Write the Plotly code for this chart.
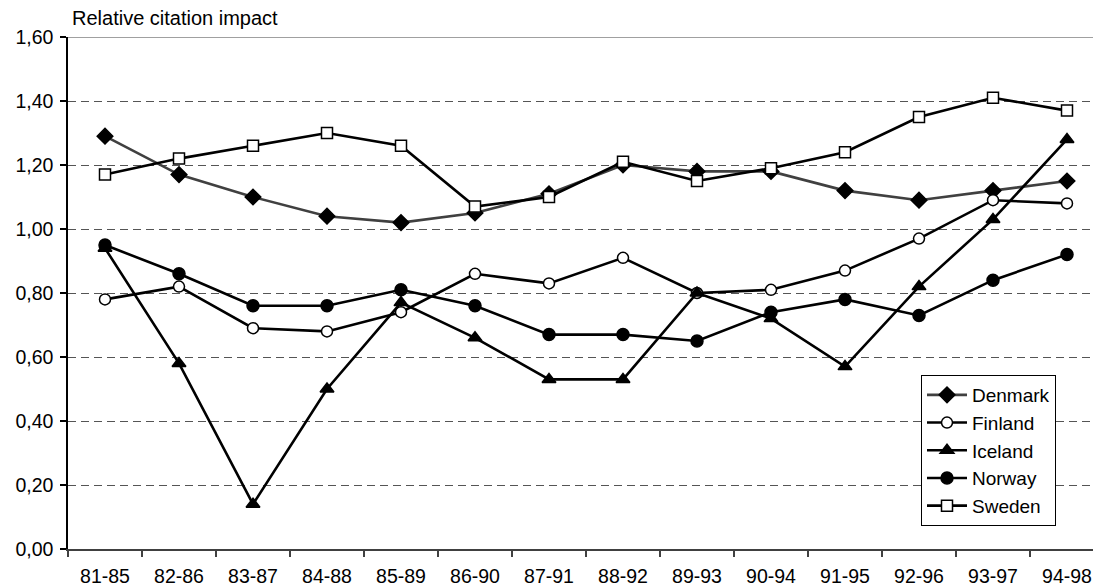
import plotly.graph_objects as go

periods = ["81-85", "82-86", "83-87", "84-88", "85-89", "86-90", "87-91",
           "88-92", "89-93", "90-94", "91-95", "92-96", "93-97", "94-98"]
denmark = [1.29, 1.17, 1.10, 1.04, 1.02, 1.05, 1.11, 1.20, 1.18, 1.18, 1.12, 1.09, 1.12, 1.15]
finland = [0.78, 0.82, 0.69, 0.68, 0.74, 0.86, 0.83, 0.91, 0.80, 0.81, 0.87, 0.97, 1.09, 1.08]
iceland = [0.94, 0.58, 0.14, 0.50, 0.77, 0.66, 0.53, 0.53, 0.80, 0.72, 0.57, 0.82, 1.03, 1.28]
norway = [0.95, 0.86, 0.76, 0.76, 0.81, 0.76, 0.67, 0.67, 0.65, 0.74, 0.78, 0.73, 0.84, 0.92]
sweden = [1.17, 1.22, 1.26, 1.30, 1.26, 1.07, 1.10, 1.21, 1.15, 1.19, 1.24, 1.35, 1.41, 1.37]
y_ticks = [0.0, 0.2, 0.4, 0.6, 0.8, 1.0, 1.2, 1.4, 1.6]

FONT = "Liberation Sans, Arial, sans-serif"
FS = 20
TFS = 19.5

series = [
    ("Denmark", denmark, "diamond", "black", "#404040", 12),
    ("Finland", finland, "circle", "white", "black", 11),
    ("Iceland", iceland, "triangle-up", "black", "black", 12),
    ("Norway", norway, "circle", "black", "black", 12),
    ("Sweden", sweden, "square", "white", "black", 11),
]

fig = go.Figure()
for name, vals, sym, fill, lcol, size in series:
    fig.add_trace(go.Scatter(
        x=periods, y=vals, name=name, mode="lines+markers",
        line=dict(color=lcol, width=2.6),
        marker=dict(symbol=sym, size=size, color=fill,
                    line=dict(color="black", width=1.5)),
    ))

fig.update_layout(
    width=1093, height=587,
    margin=dict(l=68, r=0, t=37, b=38),
    paper_bgcolor="white", plot_bgcolor="white",
    separators=",.",
    font=dict(family=FONT, size=FS, color="black"),
    showlegend=True,
    legend=dict(
        x=(921 - 68) / 1025, y=(549 - 375) / 512, xanchor="left", yanchor="top",
        bgcolor="white", bordercolor="black", borderwidth=1,
        font=dict(family=FONT, size=19, color="black"),
        itemwidth=40, tracegroupgap=0,
    ),
    xaxis=dict(
        type="category", range=[-0.5, -0.5 + 1025 / 74],
        showgrid=False, showline=True, linecolor="#404040", linewidth=2,
        ticks="outside", tickson="boundaries", ticklen=6, tickcolor="#404040",
        tickwidth=1.5, ticklabelstandoff=9, automargin=False,
        tickfont=dict(family=FONT, size=TFS),
    ),
    yaxis=dict(
        range=[0, 1.6], tickvals=y_ticks, tickformat=".2f",
        showgrid=True, gridcolor="#555555", griddash="8px,5px", gridwidth=1,
        showline=True, linecolor="black", linewidth=1.5,
        ticks="outside", ticklen=6, tickcolor="black", tickwidth=1.5,
        ticklabelstandoff=3,
        zeroline=False, automargin=False,
        tickfont=dict(family=FONT, size=TFS),
    ),
    annotations=[dict(
        text="Relative citation impact", xref="paper", yref="paper",
        x=2 / 1025, y=1 + 6 / 512, xanchor="left", yanchor="bottom",
        showarrow=False, font=dict(family=FONT, size=FS, color="black"),
    )],
    shapes=[dict(
        type="line", xref="paper", yref="y", x0=0, x1=1, y0=1.6, y1=1.6,
        line=dict(color="#808080", width=1.5), layer="below",
    )],
)

fig.write_html(
    "out.html",
    config={"displayModeBar": False},
    post_script="document.body.style.margin='0';document.body.style.overflow='hidden';",
)
